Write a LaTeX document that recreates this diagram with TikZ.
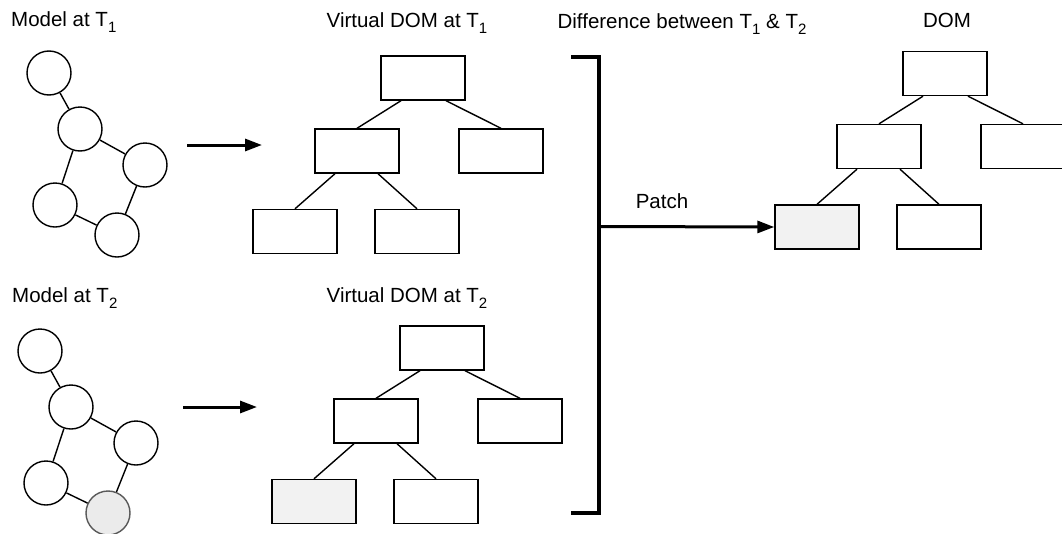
\documentclass[tikz,border=0pt]{standalone}
\usepackage{fontspec}
\setmainfont{Liberation Sans}
\usetikzlibrary{arrows.meta}

% subscript digit in the label font
\newcommand{\tsub}[1]{\raisebox{-0.3em}{\fontsize{15}{15}\selectfont #1}}

\begin{document}
\begin{tikzpicture}[x=1pt, y=-1pt,
  lbl/.style={font=\fontsize{20.5}{24}\selectfont, inner sep=0pt},
  mnode/.style={circle, draw=black, line width=1.4pt, fill=white, minimum size=44pt, inner sep=0pt},
  mchanged/.style={mnode, draw=black!65, fill=black!8},
  vbox/.style={rectangle, draw=black, line width=1.4pt, fill=white, minimum width=84pt, minimum height=44pt, inner sep=0pt},
  vchanged/.style={vbox, fill=black!5},
  link/.style={line width=1.4pt},
  flow/.style={line width=3pt, -{Triangle[length=17pt, width=12pt]}},
  bracket/.style={line width=3.3pt, line join=miter},
]
\clip (0,0) rectangle (1062,533);
\fill[white] (0,0) rectangle (1062,533);

% ---------- headings ----------
\node[lbl, anchor=base west] (hm1) at (11,26) {Model at T\tsub{1}};
\node[lbl, anchor=base] (hv1) at (407,27) {Virtual DOM at T\tsub{1}};
\node[lbl, anchor=base] (hd) at (682,28) {Difference between T\tsub{1} \& T\tsub{2}};
\node[lbl, anchor=base] (hdom) at (947,27) {DOM};
\node[lbl, anchor=base west] (hm2) at (12,302) {Model at T\tsub{2}};
\node[lbl, anchor=base] (hv2) at (407,302) {Virtual DOM at T\tsub{2}};

% ---------- model graphs ----------
\node[mnode] (ma1) at (49,73) {};
\node[mnode] (ma2) at (80,129) {};
\node[mnode] (ma3) at (145,165) {};
\node[mnode] (ma4) at (55,205) {};
\node[mnode] (ma5) at (117,235) {};
\draw[link] (ma1) -- (ma2) (ma2) -- (ma3) (ma2) -- (ma4) (ma4) -- (ma5) (ma3) -- (ma5);

\begin{scope}[shift={(-9,278)}]
\node[mnode] (mb1) at (49,73) {};
\node[mnode] (mb2) at (80,129) {};
\node[mnode] (mb3) at (145,165) {};
\node[mnode] (mb4) at (55,205) {};
\node[mchanged] (mb5) at (117,235) {};
\end{scope}
\draw[link] (mb1) -- (mb2) (mb2) -- (mb3) (mb2) -- (mb4) (mb4) -- (mb5) (mb3) -- (mb5);

% ---------- render arrows ----------
\coordinate (ra1s) at (187,145);
\coordinate (ra1e) at (262,145);
\coordinate (ra2s) at (183,407);
\coordinate (ra2e) at (257,407);
\draw[flow] (ra1s) -- (ra1e);
\draw[flow] (ra2s) -- (ra2e);

% ---------- virtual DOM at T1 ----------
\node[vbox] (va) at (423,78) {};
\node[vbox] (vaL) at (357,151) {};
\node[vbox] (vaR) at (501,151) {};
\node[vbox] (vaLL) at (295,231.5) {};
\node[vbox] (vaLR) at (417,231.5) {};
\draw[link] ([xshift=-22pt]va.south) -- (vaL.north);
\draw[link] ([xshift=23pt]va.south) -- (vaR.north);
\draw[link] ([xshift=-22pt]vaL.south) -- (vaLL.north);
\draw[link] ([xshift=21pt]vaL.south) -- (vaLR.north);

% ---------- virtual DOM at T2 ----------
\begin{scope}[shift={(19,270)}]
\node[vbox] (vb) at (423,78) {};
\node[vbox] (vbL) at (357,151) {};
\node[vbox] (vbR) at (501,151) {};
\node[vchanged] (vbLL) at (295,231.5) {};
\node[vbox] (vbLR) at (417,231.5) {};
\end{scope}
\draw[link] ([xshift=-22pt]vb.south) -- (vbL.north);
\draw[link] ([xshift=23pt]vb.south) -- (vbR.north);
\draw[link] ([xshift=-22pt]vbL.south) -- (vbLL.north);
\draw[link] ([xshift=21pt]vbL.south) -- (vbLR.north);

% ---------- real DOM ----------
\begin{scope}[shift={(522,-4.5)}]
\node[vbox] (d) at (423,78) {};
\node[vbox] (dL) at (357,151) {};
\node[vbox] (dR) at (501,151) {};
\node[vchanged] (dLL) at (295,231.5) {};
\node[vbox] (dLR) at (417,231.5) {};
\end{scope}
\draw[link] ([xshift=-22pt]d.south) -- (dL.north);
\draw[link] ([xshift=23pt]d.south) -- (dR.north);
\draw[link] ([xshift=-22pt]dL.south) -- (dLL.north);
\draw[link] ([xshift=21pt]dL.south) -- (dLR.north);

% ---------- diff bracket and patch ----------
\coordinate (bTL) at (571,57);
\coordinate (bTR) at (599,57);
\coordinate (bBR) at (599,513);
\coordinate (bBL) at (571,513);
\draw[bracket] (bTL) -- (bTR) -- (bBR) -- (bBL);
\coordinate (pS) at (599,226.5);
\draw[flow] (pS) -- (dLL.west);
\node[lbl, anchor=base] (patch) at (662,208) {Patch};
\end{tikzpicture}
\end{document}
